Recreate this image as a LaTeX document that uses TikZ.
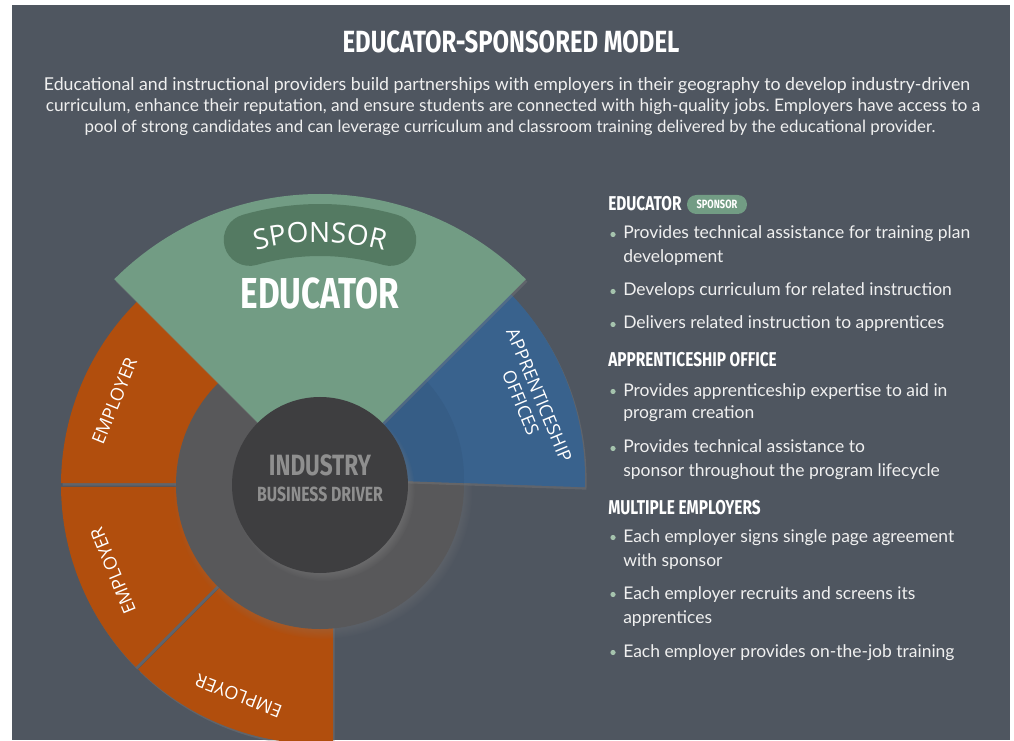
\documentclass[tikz,border=0pt]{standalone}
\usepackage{fontspec}
\setmainfont{Lato}
\newfontfamily\headfont[FakeStretch=0.77]{Fira Sans}
\newfontfamily\titlefont[FakeStretch=0.78]{Fira Sans}
\newfontfamily\labelfont{Open Sans}
\usetikzlibrary{calc,shadows,decorations.text}
\frenchspacing
\definecolor{bg}{RGB}{79,86,96}
\definecolor{edgreen}{RGB}{114,156,132}
\definecolor{pillgreen}{RGB}{84,122,98}
\definecolor{emporange}{RGB}{177,78,13}
\definecolor{apblue}{RGB}{57,98,141}
\definecolor{ringgray}{RGB}{88,88,90}
\definecolor{coregray}{RGB}{62,62,64}
\definecolor{coretext}{RGB}{143,143,143}
\definecolor{bulletc}{RGB}{165,195,173}
\definecolor{bodytext}{RGB}{240,240,240}
\newcommand\sponsorfont{\labelfont\fontsize{21}{21}\selectfont}
\tikzset{
  bodyline/.style={anchor=base west, text=bodytext, font=\fontsize{13.1}{15}\selectfont, inner sep=0pt},
  paraline/.style={anchor=base, text=bodytext, inner sep=0pt},
  bulletdot/.style={fill=bulletc, circle, inner sep=0pt, minimum size=3.9pt},
  sidehead/.style={anchor=base west, text=white, font=\headfont\bfseries\fontsize{15}{15}\selectfont, inner sep=0pt},
  emplabel/.style={text=white, font=\labelfont\fontsize{13.5}{13.5}\selectfont, inner sep=0pt},
  softshadow/.style={drop shadow={shadow xshift=1.2pt, shadow yshift=-1.8pt, opacity=0.35}},
}
\begin{document}
\begin{tikzpicture}[x=0.75pt,y=0.75pt]
\useasboundingbox (0,0) rectangle (1014,740);
\fill[white] (0,0) rectangle (1014,740);
\fill[bg] (12,0) rectangle (1010,735);
\coordinate (C) at (320,255);
\coordinate (Cb) at (320,262);

% employer sectors
\fill[emporange, softshadow] ($(C)+(133:100)$) -- ($(C)+(133:259)$) arc[start angle=133, end angle=179.61, radius=259] -- ($(C)+(180:100)+(90:1.75)$) -- cycle;
\fill[emporange, softshadow] ($(C)+(180:100)+(270:1.75)$) -- ($(C)+(180.39:259)$) arc[start angle=180.39, end angle=224.61, radius=259] -- ($(C)+(225:100)+(135:1.75)$) -- cycle;
\fill[emporange, softshadow] ($(C)+(225:100)+(315:1.75)$) -- ($(C)+(225.39:259)$) arc[start angle=225.39, end angle=272.88, radius=259] -- ($(C)+(13,-100)$) -- cycle;

% ring
\fill[ringgray, circular drop shadow={shadow xshift=2pt, shadow yshift=-3pt, opacity=0.5, shadow scale=1.04}] (C) circle[radius=144];

% apprenticeship offices sector
\fill[apblue, softshadow] (Cb) -- ($(Cb)+(-2:265)$) arc[start angle=-2, end angle=47, radius=265] -- cycle;
\fill[apblue!95!black] (Cb) -- ($(Cb)+(-2:144)$) arc[start angle=-2, end angle=47, radius=144] -- cycle;

% educator sector
\fill[edgreen, softshadow] (C) -- ($(C)+(45:291)$) arc[start angle=45, end angle=135, radius=291] -- cycle;
\draw[pillgreen, line width=39pt, line cap=round] ($(C)+(106:255)$) arc[start angle=106, end angle=74, radius=255];
\path[decorate, decoration={text along path, text={|\sponsorfont|SPONSOR}, text align=center, text color=white}] ($(C)+(125:243)$) arc[start angle=125, end angle=55, radius=243];
\node[anchor=base, text=white, font=\headfont\bfseries\fontsize{32.5}{32.5}\selectfont, inner sep=0pt] (edu) at (320,431) {EDUCATOR};

% core
\fill[coregray, circular drop shadow={shadow xshift=3pt, shadow yshift=-4pt, opacity=0.6, shadow scale=1.03}] (C) circle[radius=88];
\node[anchor=base, text=coretext, font=\headfont\bfseries\fontsize{22}{22}\selectfont, inner sep=0pt] (ind) at (320,265) {INDUSTRY};
\node[anchor=base, text=coretext, font=\headfont\bfseries\fontsize{15.4}{15.4}\selectfont, inner sep=0pt] (bd) at (320,239) {BUSINESS DRIVER};

% sector labels
\node[emplabel, rotate=67.8] (emp1) at ($(C)+(157.8:222)$) {EMPLOYER};
\node[emplabel, rotate=112.5] (emp2) at ($(C)+(202.5:224)$) {EMPLOYER};
\node[emplabel, rotate=158.9] (emp3) at ($(C)+(248.9:226)$) {EMPLOYER};
\node[emplabel, rotate=-67.5, align=center, font=\labelfont\fontsize{13.5}{15}\selectfont] (apo) at (530,341) {APPRENTICESHIP\\OFFICES};

% title and intro
\node[anchor=base, text=white, font=\titlefont\bfseries\fontsize{23}{23}\selectfont, inner sep=0pt] (title) at (511,687) {EDUCATOR-SPONSORED MODEL};
\node[paraline, font=\fontsize{13.3}{15}\selectfont] (p1) at (507,649) {Educational and instructional providers build partnerships with employers in their geography to develop industry-driven};
\node[paraline, font=\fontsize{13}{15}\selectfont] (p2) at (513,628) {curriculum, enhance their reputation, and ensure students are connected with high-quality jobs. Employers have access to a};
\node[paraline, font=\fontsize{12.65}{15}\selectfont] (p3) at (510,607) {pool of strong candidates and can leverage curriculum and classroom training delivered by the educational provider.};

% right column
\node[sidehead] (h1) at (608,529) {EDUCATOR};
\node[fill=edgreen, rounded corners=7pt, minimum width=45pt, minimum height=14.25pt, inner sep=0pt, text=white, font=\headfont\bfseries\fontsize{9}{9}\selectfont] (pill) at (717,535.5) {SPONSOR};
\node[bulletdot] (d1) at (613,505.5) {};
\node[bodyline] (t1) at (623,501) {Provides technical assistance for training plan};
\node[bodyline] (t1b) at (623,477) {development};
\node[bulletdot] (d2) at (613,448.5) {};
\node[bodyline] (t2) at (623,444) {Develops curriculum for related instruction};
\node[bulletdot] (d3) at (613,415.5) {};
\node[bodyline] (t3) at (623,411) {Delivers related instruction to apprentices};
\node[sidehead] (h2) at (608,373) {APPRENTICESHIP OFFICE};
\node[bulletdot] (d4) at (613,348.5) {};
\node[bodyline] (t4) at (623,344) {Provides apprenticeship expertise to aid in};
\node[bodyline] (t4b) at (623,321) {program creation};
\node[bulletdot] (d5) at (613,291.5) {};
\node[bodyline] (t5) at (623,287) {Provides technical assistance to};
\node[bodyline] (t5b) at (623,263) {sponsor throughout the program lifecycle};
\node[sidehead] (h3) at (608,226) {MULTIPLE EMPLOYERS};
\node[bulletdot] (d6) at (613,202.5) {};
\node[bodyline] (t6) at (623,198) {Each employer signs single page agreement};
\node[bodyline] (t6b) at (623,174) {with sponsor};
\node[bulletdot] (d7) at (613,145.5) {};
\node[bodyline] (t7) at (623,141) {Each employer recruits and screens its};
\node[bodyline] (t7b) at (623,117) {apprentices};
\node[bulletdot] (d8) at (613,87.5) {};
\node[bodyline] (t8) at (623,83) {Each employer provides on-the-job training};
\end{tikzpicture}
\end{document}
